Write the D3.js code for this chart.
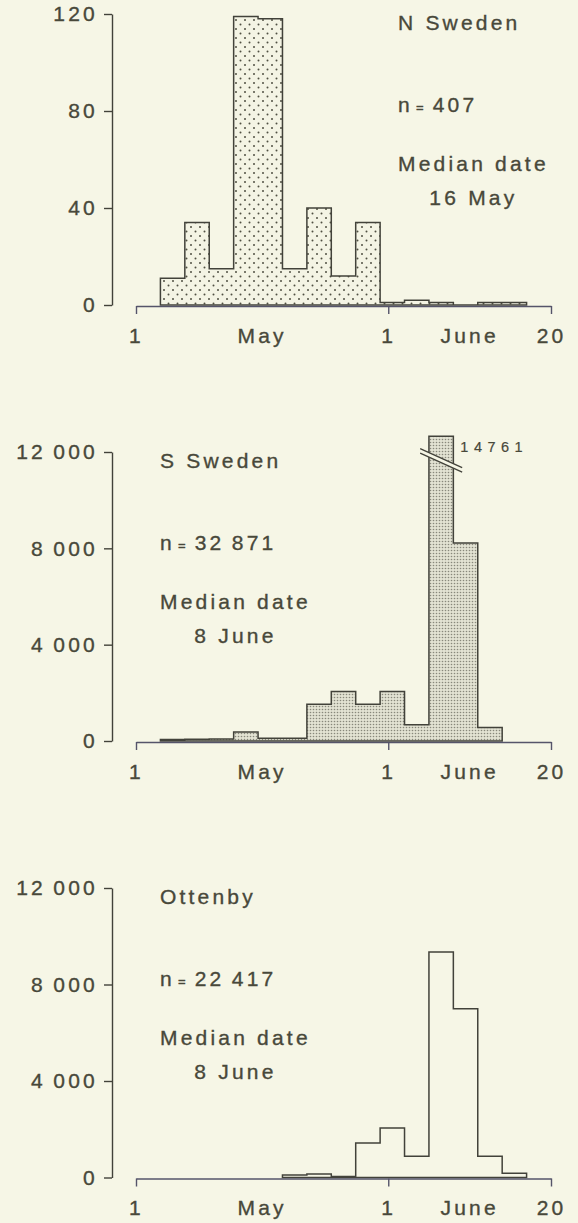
<!DOCTYPE html>
<html>
<head>
<meta charset="utf-8">
<script src="https://cdn.jsdelivr.net/npm/d3@7"></script>
<style>
  body { margin: 0; background: #f6f6e6; }
  svg { display: block; }
  text { font-family: "Liberation Sans", Arial, sans-serif; fill: #48483a; }
</style>
</head>
<body>
<div id="chart"></div>
<script>
// 3-day periods, day 0 = 1 May
const periodStart = [0, 3, 6, 9, 12, 15, 18, 21, 24, 27, 30, 33, 36, 39, 42, 45, 48];
const periodLength = 3;

const nSweden = [0, 11, 34, 15, 119, 118, 15, 40, 12, 34, 1, 2, 1, 0, 1, 1, 0];
const sSweden = [0, 60, 70, 80, 370, 110, 110, 1530, 2060, 1530, 2060, 670, 14761, 8220, 560, 0, 0];
const ottenby = [0, 0, 0, 0, 0, 0, 100, 150, 40, 1430, 2050, 880, 9350, 7000, 880, 180, 0];

const regionNames = ["N Sweden", "S Sweden", "Ottenby"];
const sampleSizes = [407, 32871, 22417];
const medianDates = ["16 May", "8 June", "8 June"];

const dayTicks = [0, 31, 51];
const dayTickLabels = ["1", "1", "20"];
const monthLabels = ["May", "June"];

const smallTicks = [0, 40, 80, 120];
const bigTicks = [0, 4000, 8000, 12000];

const W = 578, H = 1223;
const bg = "#f6f6e6", ink = "#42423a", axisInk = "#55546a", textInk = "#48483a";
const fontFamily = '"Liberation Sans", Arial, sans-serif';

const fmt = d3.formatLocale({decimal: ".", thousands: "\u2009", grouping: [3]}).format(",");

const svg = d3.select("#chart").append("svg").attr("width", W).attr("height", H);
svg.append("rect").attr("width", W).attr("height", H).attr("fill", bg);

const defs = svg.append("defs");
const dots = defs.append("pattern").attr("id", "dots").attr("patternUnits", "userSpaceOnUse")
  .attr("width", 9).attr("height", 9);
dots.append("rect").attr("width", 9).attr("height", 9).attr("fill", "#f4f4e4");
dots.append("circle").attr("cx", 2).attr("cy", 2).attr("r", 1).attr("fill", "#505042");
dots.append("circle").attr("cx", 6.5).attr("cy", 6.5).attr("r", 1).attr("fill", "#505042");

const stip = defs.append("pattern").attr("id", "stip").attr("patternUnits", "userSpaceOnUse")
  .attr("width", 3).attr("height", 3);
stip.append("rect").attr("width", 3).attr("height", 3).attr("fill", "#e2e2d2");
stip.append("circle").attr("cx", 1.5).attr("cy", 1.5).attr("r", 0.8).attr("fill", "#88887b");

const panels = [
  {values: nSweden, yMax: 120, ticks: smallTicks, top: 14, bottom: 305, fill: "url(#dots)", textX: 398},
  {values: sSweden, yMax: 12000, ticks: bigTicks, top: 452, bottom: 741, fill: "url(#stip)", textX: 160, cap: 12650},
  {values: ottenby, yMax: 12000, ticks: bigTicks, top: 888, bottom: 1177.5, fill: "none", textX: 160}
];

const x = d3.scaleLinear().domain([0, 51]).range([136, 551]);

function styleText(sel, size) {
  sel.attr("font-size", size).attr("letter-spacing", 3.2).attr("fill", textInk)
    .attr("stroke", textInk).attr("stroke-width", 0.35)
    .attr("font-family", fontFamily);
}

panels.forEach((p, k) => {
  const g = svg.append("g");
  const y = d3.scaleLinear().domain([0, p.yMax]).range([p.bottom, p.top]);
  const cap = p.cap || Infinity;

  // histogram outline from the first to the last non-empty period
  const nz = p.values.map((v, i) => v > 0 ? i : -1).filter(i => i >= 0);
  const first = nz[0], last = nz[nz.length - 1];
  const pts = [];
  for (let i = first; i <= last; i++) pts.push([periodStart[i], Math.min(p.values[i], cap)]);
  pts.push([periodStart[last] + periodLength, 0]);

  const area = d3.area().curve(d3.curveStepAfter)
    .x(d => x(d[0])).y0(y(0)).y1(d => y(d[1]));
  const line = d3.line().curve(d3.curveStepAfter)
    .x(d => x(d[0])).y(d => y(d[1]));

  g.append("path").attr("d", area(pts)).attr("fill", p.fill);
  g.append("path").attr("d", line([[periodStart[first], 0]].concat(pts)) + "Z")
    .attr("fill", "none").attr("stroke", ink).attr("stroke-width", 1.5)
    .attr("stroke-linejoin", "miter");

  // axis break for the period that goes off scale
  p.values.forEach((v, i) => {
    if (v <= cap) return;
    const s = periodStart[i];
    const cx = x(s + periodLength / 2), cy = y(11650);
    const dx = 21, dy = 9.5, gap = 4.5;
    g.append("path")
      .attr("d", `M${cx - dx},${cy - dy - gap / 2}L${cx + dx},${cy + dy - gap / 2}L${cx + dx},${cy + dy + gap / 2}L${cx - dx},${cy - dy + gap / 2}Z`)
      .attr("fill", bg);
    [-gap / 2, gap / 2].forEach(o => {
      g.append("line")
        .attr("x1", cx - dx).attr("y1", cy - dy + o)
        .attr("x2", cx + dx).attr("y2", cy + dy + o)
        .attr("stroke", ink).attr("stroke-width", 1.3);
    });
    const lab = g.append("text")
      .attr("x", x(s + periodLength) + 7)
      .attr("y", y(cap) + 16)
      .text(d3.format("d")(v));
    styleText(lab, 14.5);
    lab.attr("letter-spacing", 5.5).attr("stroke-width", 0.2);
  });

  // y axis
  const ya = g.append("g").attr("transform", "translate(112,0)")
    .call(d3.axisLeft(y).tickValues(p.ticks).tickSize(8).tickSizeOuter(0).tickPadding(6)
      .tickFormat(d => fmt(d)));
  ya.selectAll("path, line").attr("stroke", ink).attr("stroke-width", 1.4);
  styleText(ya.selectAll("text"), 21);

  // x axis
  const xa = g.append("g").attr("transform", `translate(0,${p.bottom + 1})`)
    .call(d3.axisBottom(x).tickValues(dayTicks).tickSize(8).tickSizeOuter(0).tickPadding(14)
      .tickFormat((d, i) => dayTickLabels[i]));
  xa.selectAll("path, line").attr("stroke", axisInk).attr("stroke-width", 1.4);
  styleText(xa.selectAll("text"), 21);
  const months = xa.selectAll("text.month").data(monthLabels).enter().append("text")
    .attr("class", "month")
    .attr("x", (d, i) => x((dayTicks[i] + dayTicks[i + 1]) / 2))
    .attr("y", 22).attr("dy", "0.71em")
    .attr("text-anchor", "middle")
    .text(d => d);
  styleText(months, 21);

  // panel text
  const t = g.append("g");
  styleText(t, 21);
  t.append("text").attr("x", p.textX).attr("y", p.top + 16).text(regionNames[k]);
  const nt = t.append("text").attr("x", p.textX).attr("y", p.top + 98);
  nt.append("tspan").text("n");
  nt.append("tspan").attr("font-size", 13).attr("dx", 3).text("=");
  nt.append("tspan").attr("dx", 6).text(fmt(sampleSizes[k]));
  const md = t.append("text").attr("x", p.textX).attr("y", p.top + 157).text("Median date");
  const w = md.node().getComputedTextLength();
  t.append("text").attr("x", p.textX + w / 2).attr("y", p.top + 191)
    .attr("text-anchor", "middle").text(medianDates[k]);
});
</script>
</body>
</html>
